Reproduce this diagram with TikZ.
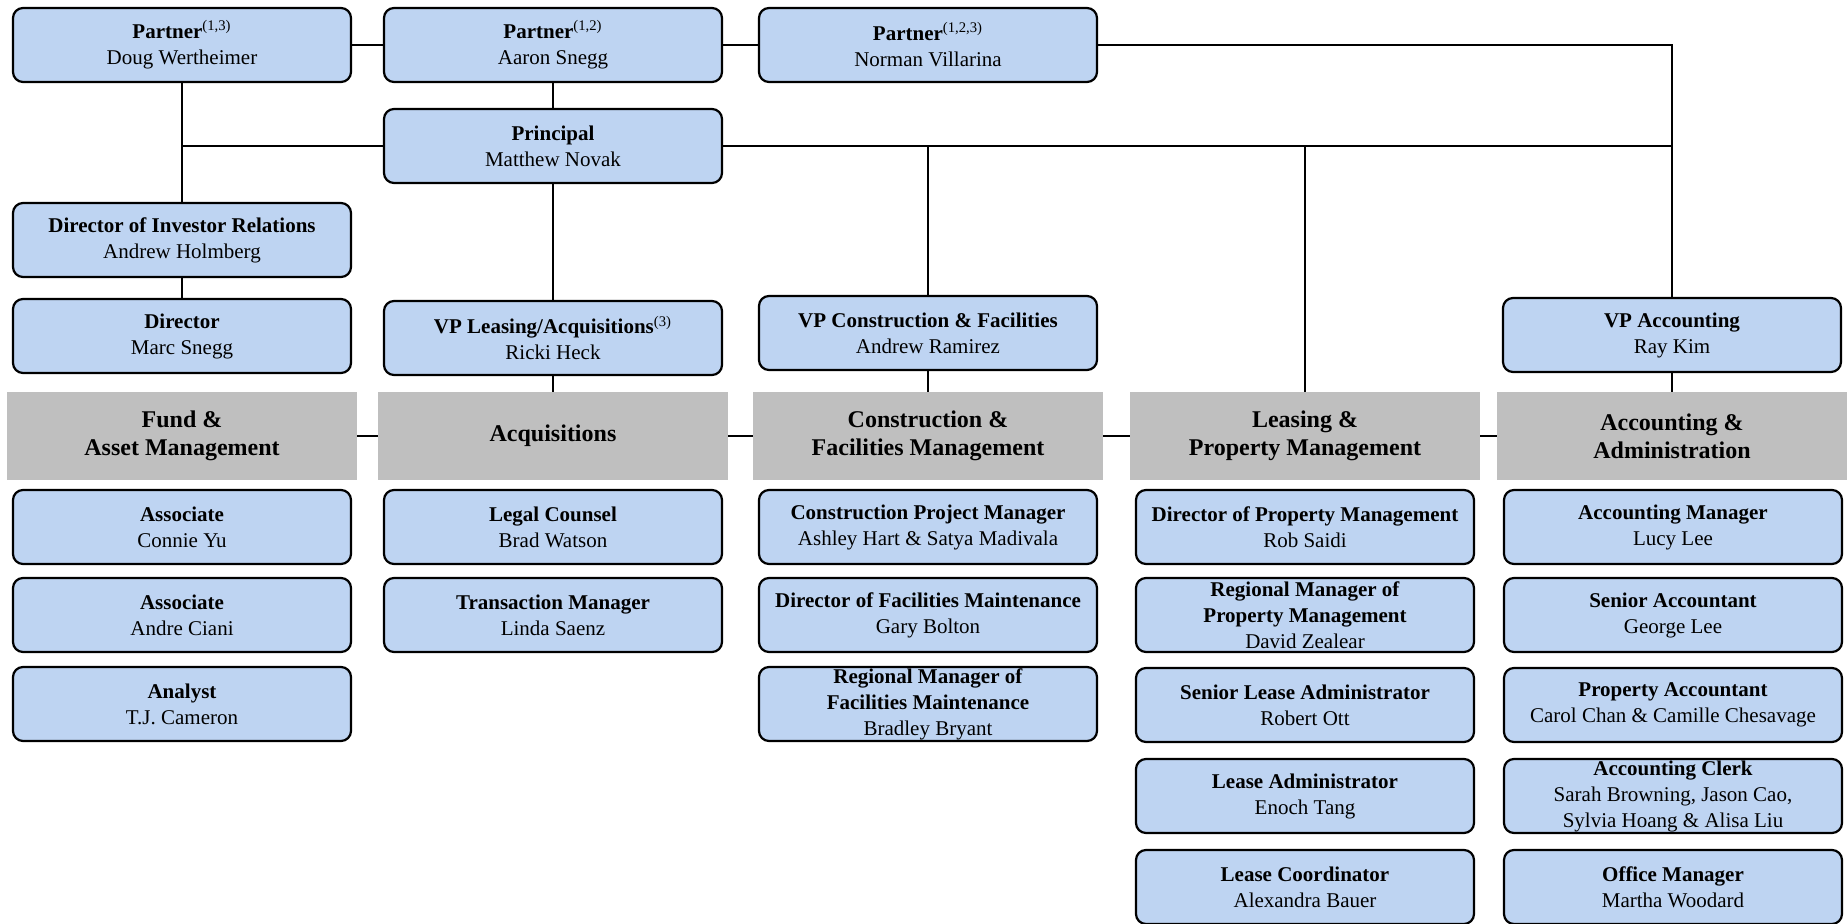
\documentclass[tikz,border=0pt]{standalone}
\usepackage{fontspec}
\setmainfont{Liberation Serif}
\usepackage{xcolor}
\usepackage{tikz}

\definecolor{boxblue}{RGB}{190,212,242}
\definecolor{deptgray}{RGB}{191,191,191}
\newcommand{\notemark}[1]{\textsuperscript{(#1)}}

\begin{document}
\begin{tikzpicture}[x=0.5pt,y=-0.5pt,
  person/.style={draw=black, line width=1.1pt, fill=boxblue, rounded corners=5pt,
    minimum width=169pt, minimum height=37pt, inner sep=0pt, align=center,
    font=\fontsize{10.5}{13}\selectfont},
  dept/.style={fill=deptgray, minimum width=175pt, minimum height=44pt, inner sep=0pt,
    align=center, font=\fontsize{12}{13.8}\selectfont\bfseries,
    execute at begin node={\vspace*{4.4pt}}},
  link/.style={line width=1pt}]
\useasboundingbox (0,0) rectangle (1847,924);

% partners and principal
\node[person] (p1) at (182,45) {\textbf{Partner}\notemark{1,3}\\Doug Wertheimer};
\node[person] (p2) at (553,45) {\textbf{Partner}\notemark{1,2}\\Aaron Snegg};
\node[person] (p3) at (928,45) {\textbf{Partner}\notemark{1,2,3}\\Norman Villarina};
\node[person] (principal) at (553,146) {\textbf{Principal}\\Matthew Novak};

\node[person] (dirir) at (182,240) {\textbf{Director of Investor Relations}\\Andrew Holmberg};
\node[person] (director) at (182,336) {\textbf{Director}\\Marc Snegg};
\node[person] (vplease) at (553,338) {\textbf{VP Leasing/Acquisitions}\notemark{3}\\Ricki Heck};
\node[person] (vpcon) at (928,333) {\textbf{VP Construction \& Facilities}\\Andrew Ramirez};
\node[person] (vpacc) at (1672,335) {\textbf{VP Accounting}\\Ray Kim};

% departments
\node[dept] (fundhd) at (182,436) {Fund \&\\Asset Management};
\node[dept] (acqhd) at (553,436) {Acquisitions};
\node[dept] (conhd) at (928,436) {Construction \&\\Facilities Management};
\node[dept] (leasehd) at (1305,436) {Leasing \&\\Property Management};
\node[dept] (acchd) at (1672,436) {Accounting \&\\Administration};

% staff
\node[person] (assoc1) at (182,527) {\textbf{Associate}\\Connie Yu};
\node[person] (assoc2) at (182,615) {\textbf{Associate}\\Andre Ciani};
\node[person] (analyst) at (182,704) {\textbf{Analyst}\\T.J. Cameron};

\node[person] (legal) at (553,527) {\textbf{Legal Counsel}\\Brad Watson};
\node[person] (transmgr) at (553,615) {\textbf{Transaction Manager}\\Linda Saenz};

\node[person] (conpm) at (928,527) {\textbf{Construction Project Manager}\\Ashley Hart \& Satya Madivala};
\node[person] (dirfac) at (928,615) {\textbf{Director of Facilities Maintenance}\\Gary Bolton};
\node[person] (regfac) at (928,704) {\textbf{Regional Manager of}\\\textbf{Facilities Maintenance}\\Bradley Bryant};

\node[person] (dirpm) at (1305,527) {\textbf{Director of Property Management}\\Rob Saidi};
\node[person] (regpm) at (1305,615) {\textbf{Regional Manager of}\\\textbf{Property Management}\\David Zealear};
\node[person] (srlease) at (1305,705) {\textbf{Senior Lease Administrator}\\Robert Ott};
\node[person] (leaseadm) at (1305,796) {\textbf{Lease Administrator}\\Enoch Tang};
\node[person] (leasecoord) at (1305,887) {\textbf{Lease Coordinator}\\Alexandra Bauer};

\node[person] (accmgr) at (1673,527) {\textbf{Accounting Manager}\\Lucy Lee};
\node[person] (sracc) at (1673,615) {\textbf{Senior Accountant}\\George Lee};
\node[person] (propacc) at (1673,705) {\textbf{Property Accountant}\\Carol Chan \& Camille Chesavage};
\node[person] (clerk) at (1673,796) {\textbf{Accounting Clerk}\\Sarah Browning, Jason Cao,\\Sylvia Hoang \& Alisa Liu};
\node[person] (officemgr) at (1673,887) {\textbf{Office Manager}\\Martha Woodard};

% reporting lines
\draw[link] (p1) -- (p2);
\draw[link] (p2) -- (p3);
\draw[link] (p3) -| (vpacc.north);
\draw[link] (p2) -- (principal);
\draw[link] (p1) -- (dirir);
\draw[link] (dirir) -- (director);
\draw[link] (principal.west) -- (principal.west -| p1.south);
\draw[link] (principal.east) -- (principal.east -| vpacc.north);
\draw[link] (principal.east -| vpcon.north) -- (vpcon);
\draw[link] (principal.east -| leasehd.north) -- (leasehd);
\draw[link] (principal) -- (vplease);
\draw[link] (vplease) -- (acqhd);
\draw[link] (vpcon) -- (conhd);
\draw[link] (vpacc) -- (acchd);
\draw[link] (fundhd) -- (acqhd);
\draw[link] (acqhd) -- (conhd);
\draw[link] (conhd) -- (leasehd);
\draw[link] (leasehd) -- (acchd);

\end{tikzpicture}
\end{document}
